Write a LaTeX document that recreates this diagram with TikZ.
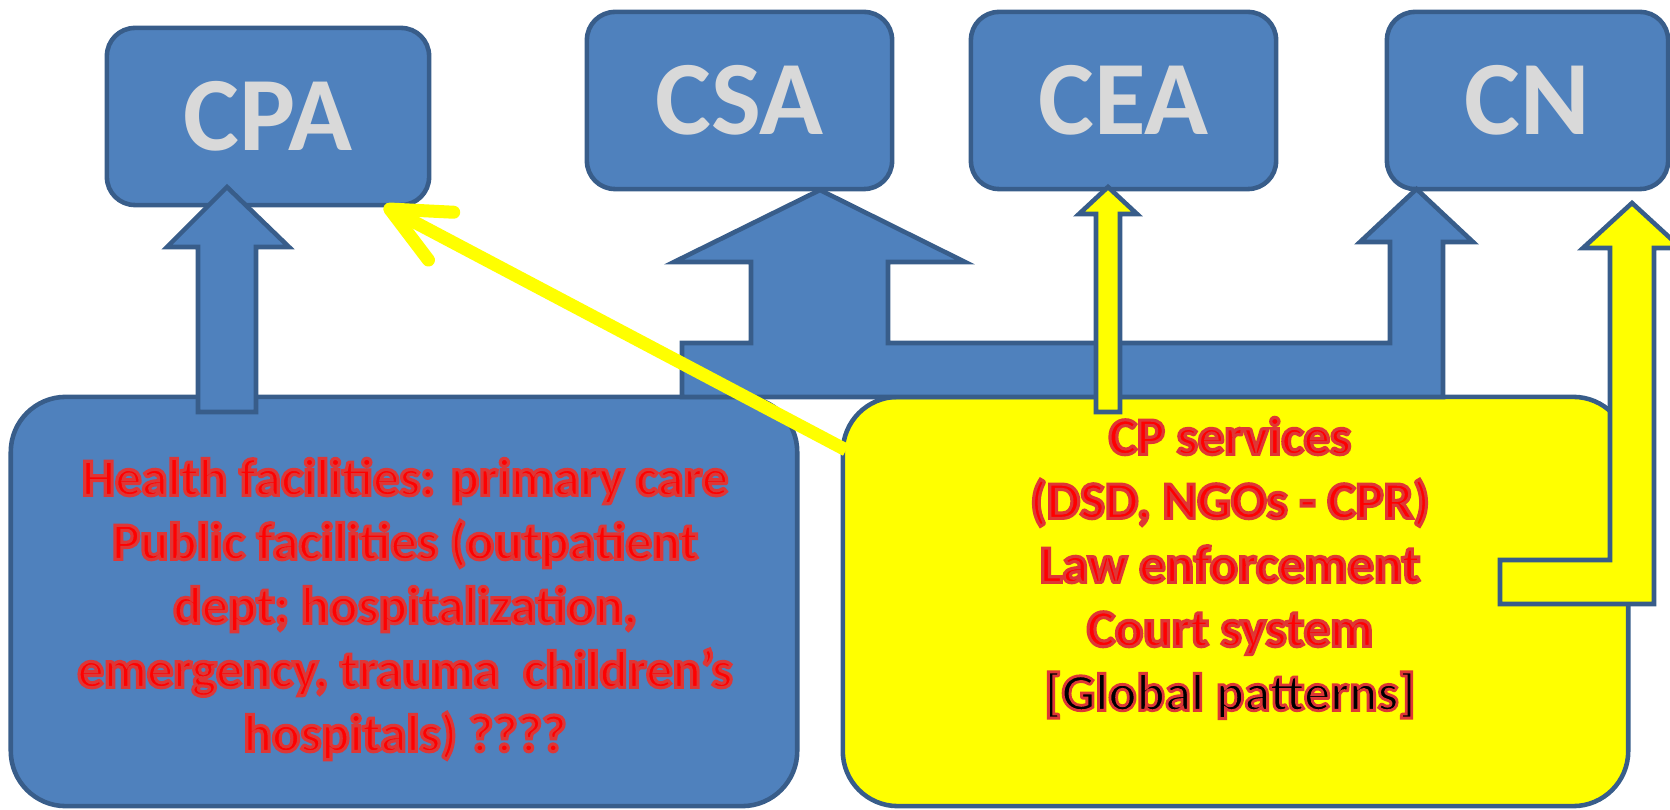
\documentclass[tikz,border=0pt]{standalone}
\usepackage{fontspec}
\setmainfont{Carlito}
\usetikzlibrary{arrows.meta}

\definecolor{boxblue}{RGB}{79,129,189}
\definecolor{edgeblue}{RGB}{56,93,138}
\definecolor{labelgray}{RGB}{217,217,217}
\definecolor{hiyellow}{RGB}{255,255,0}

% text drawn filled, then stroked in a softer red
\newcommand{\redrim}[2][0.9]{%
  \special{pdf:literal direct 2 Tr #1 w 0.87 0.21 0.21 RG}#2\special{pdf:literal direct 0 Tr}}

\tikzset{
  topbox/.style={draw=edgeblue, fill=boxblue, line width=1.3pt, rounded corners=0.28cm,
    minimum height=1.77cm, inner sep=0pt, text=labelgray,
    font=\fontsize{30}{36}\selectfont\bfseries},
  bigbox/.style={draw=edgeblue, line width=1.3pt, rounded corners=0.55cm,
    minimum height=4.09cm, inner sep=0pt},
  blockarrow/.style={draw=edgeblue, line width=1.3pt, line join=miter, fill=#1},
  blockarrow/.default=boxblue,
  redtext/.style={text=red, align=center, inner sep=0pt,
    font=\fontsize{15}{18.2}\selectfont\bfseries},
  hiline/.style={draw=hiyellow, line width=3.7pt,
    -{Straight Barb[length=5.8mm,width=5.4mm,round]}}
}

\begin{document}
\begin{tikzpicture}[x=0.01cm, y=-0.01cm]
  \useasboundingbox (0,0) rectangle (1670,810);

  % top row
  \node[topbox, minimum width=3.22cm] (cpa) at (268,116.5) {CPA};
  \node[topbox, minimum width=3.05cm] (csa) at (739.5,100.5) {CSA};
  \node[topbox, minimum width=3.05cm] (cea) at (1123.5,100.5) {CEA};
  \node[topbox, minimum width=2.81cm] (cn) at (1527.5,100.5) {CN};

  % bottom boxes
  \node[bigbox, fill=boxblue, minimum width=7.86cm] (hfac) at (404,601.5) {};
  \node[bigbox, fill=hiyellow, minimum width=7.85cm] (cps) at (1235.5,601.5) {};

  % block arrows
  \draw[blockarrow] (198,412) -- (198,247) -- (167,247) -- (227,187) -- (289,247)
    -- (256,247) -- (256,412) -- cycle;
  \draw[blockarrow] (682,397) -- (682,343) -- (751,343) -- (751,262) -- (674,262)
    -- (820,190) -- (965,262) -- (888,262) -- (888,343) -- (1390,343)
    -- (1390,242) -- (1360,242) -- (1416.5,189) -- (1473,242) -- (1443,242)
    -- (1443,397) -- cycle;
  \draw[blockarrow=hiyellow] (1096,412) -- (1096,214) -- (1079,214) -- (1108,187)
    -- (1137,214) -- (1120,214) -- (1120,412) -- cycle;
  \draw[blockarrow=hiyellow] (1500,604) -- (1500,560) -- (1610,560) -- (1610,248)
    -- (1583,248) -- (1632,203) -- (1681,248) -- (1654,248) -- (1654,604) -- cycle;

  % yellow pointer
  \coordinate (lnstart) at (846,450);
  \coordinate (lntip) at (384,206);
  \draw[hiline] (lnstart) -- (lntip);

  % texts
  \node[redtext] (hftext) at (405,609) {%
    \redrim{Health facilities: primary care}\\
    \redrim{Public facilities (outpatient}\\
    \redrim{dept; hospitalization,}\\
    \redrim{emergency, trauma~ children’s}\\
    \redrim{hospitals) ????}};
  \node[redtext] (cptext) at (1230,568) {%
    \redrim{CP services}\\
    \redrim{(DSD, NGOs - CPR)}\\
    \redrim{Law enforcement}\\
    \redrim{Court system}\\
    {\color{black}\redrim[0.8]{[Global patterns]}}};
\end{tikzpicture}
\end{document}
